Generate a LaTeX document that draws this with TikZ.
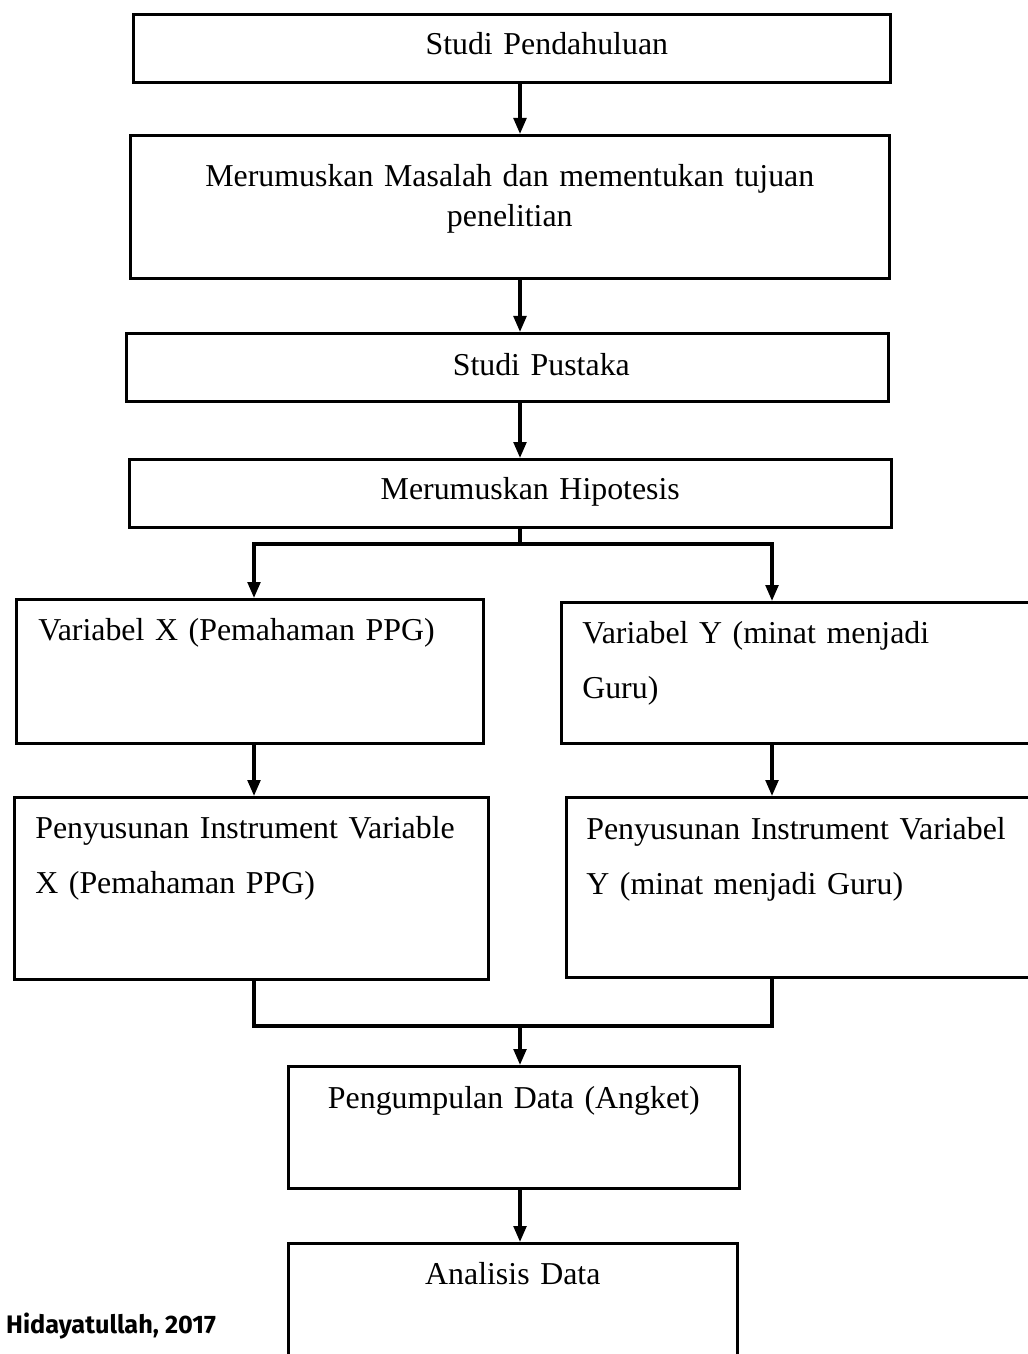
\documentclass[tikz,border=0pt]{standalone}
\usepackage{fontspec}
\setmainfont{Liberation Serif}
\newfontfamily\sumberfont{Fira Sans}
\usetikzlibrary{arrows.meta}
\tikzstyle{kotak}=[rectangle, draw, line width=2.2pt, inner xsep=0pt, inner ysep=0pt, anchor=north west, align=center, font=\fontsize{27.2}{34.1}\selectfont]
\tikzstyle{kotakkiri}=[rectangle, draw, line width=2.2pt, inner ysep=0pt, anchor=north west, align=left, font=\fontsize{27.2}{46.9}\selectfont]
\tikzstyle{garis}=[line width=2.8pt]
\tikzstyle{panah}=[line width=2.8pt, -{Triangle[length=0.48cm,width=0.38cm]}]

\begin{document}
\begin{tikzpicture}[x=0.03cm,y=-0.03cm]
\useasboundingbox (0,0) rectangle (1027,1354);
%Alur utama
\node[kotak, text width=22.71cm, text height=1.2cm, text depth=0.84cm] (b1) at (132,13){\hspace*{2.1cm}Studi Pendahuluan};
\node[kotak, text width=22.77cm, text height=1.53cm, text depth=2.76cm] (b2) at (129,134){Merumuskan Masalah dan mementukan tujuan\\penelitian};
\node[kotak, text width=22.86cm, text height=1.26cm, text depth=0.78cm] (b3) at (125,332){\hspace*{2.04cm}Studi Pustaka};
\node[kotak, text width=22.86cm, text height=1.2cm, text depth=0.84cm] (b4) at (128,458){\hspace*{1.2cm}Merumuskan Hipotesis};
%Variabel X dan Y
\node[kotakkiri, inner xsep=0.66cm, text width=12.69cm, text height=1.23cm, text depth=3.09cm] (b5l) at (15,598){Variabel X (Pemahaman PPG)};
\node[kotakkiri, inner xsep=0.63cm, text width=13.14cm, text height=1.23cm, text depth=3.0cm] (b5r) at (560,601){Variabel Y (minat menjadi\\Guru)};
\node[kotakkiri, inner xsep=0.63cm, text width=12.96cm, text height=1.23cm, text depth=4.23cm] (b6l) at (13,796){Penyusunan Instrument Variable\\X (Pemahaman PPG)};
\node[kotakkiri, inner xsep=0.6cm, text width=13.2cm, text height=1.26cm, text depth=4.14cm] (b6r) at (565,796){Penyusunan Instrument Variabel\\Y (minat menjadi Guru)};
%Bawah
\node[kotak, text width=13.53cm, text height=1.26cm, text depth=2.4cm] (b7) at (287,1065){Pengumpulan Data (Angket)};
\node[kotak, text width=13.47cm, text height=1.23cm, text depth=3.6cm] (b8) at (287,1242){Analisis Data};
\node[anchor=base west, inner sep=0pt, font=\sumberfont\bfseries\fontsize{21.6}{26}\selectfont] (sumber) at (6,1333){Hidayatullah, 2017};

%Titik bantu
\coordinate (tengah) at (520,0);
\coordinate (kiri) at (254,544);
\coordinate (kanan) at (772,544);
\coordinate (gabung) at (520,1026);

%Panah
\draw[panah] (b1.south -| tengah) -- (b2.north -| tengah);
\draw[panah] (b2.south -| tengah) -- (b3.north -| tengah);
\draw[panah] (b3.south -| tengah) -- (b4.north -| tengah);
\draw[garis] (b4.south -| tengah) -- (tengah |- kiri);
\draw[panah] (tengah |- kiri) -| (kiri |- b5l.north);
\draw[panah] (tengah |- kanan) -| (kanan |- b5r.north);
\draw[panah] (b5l.south -| kiri) -- (b6l.north -| kiri);
\draw[panah] (b5r.south -| kanan) -- (b6r.north -| kanan);
\draw[garis] (b6l.south -| kiri) |- (gabung) -| (b6r.south -| kanan);
\draw[panah] (gabung) -- (b7.north -| gabung);
\draw[panah] (b7.south -| tengah) -- (b8.north -| tengah);
\end{tikzpicture}
\end{document}
